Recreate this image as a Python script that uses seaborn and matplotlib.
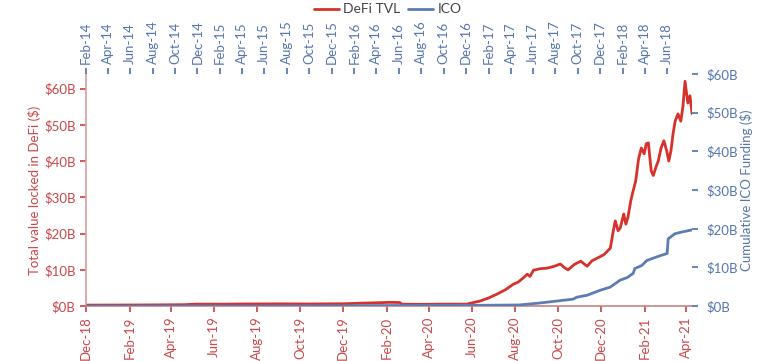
import matplotlib
matplotlib.use("Agg")
import matplotlib.pyplot as plt
import matplotlib.dates as mdates
from matplotlib.ticker import FuncFormatter
from matplotlib.lines import Line2D
import pandas as pd
import seaborn as sns

# DeFi total value locked, $B (bottom / left axes)
defi_dates = ["2018-12-01", "2019-01-15", "2019-03-01", "2019-04-20", "2019-05-05", "2019-06-15",
              "2019-07-15", "2019-09-01", "2019-10-15", "2019-12-01", "2019-12-24", "2020-01-21",
              "2020-02-05", "2020-02-19", "2020-02-22", "2020-03-20", "2020-04-20", "2020-05-24",
              "2020-06-12", "2020-06-25", "2020-07-06", "2020-07-18", "2020-07-29", "2020-08-05",
              "2020-08-12", "2020-08-18", "2020-08-22", "2020-08-27", "2020-09-05", "2020-09-16",
              "2020-09-24", "2020-10-04", "2020-10-10", "2020-10-15", "2020-10-24", "2020-11-02",
              "2020-11-11", "2020-11-18", "2020-11-26", "2020-12-05", "2020-12-14", "2020-12-18",
              "2020-12-21", "2020-12-25", "2020-12-28", "2021-01-02", "2021-01-05", "2021-01-08",
              "2021-01-12", "2021-01-15", "2021-01-19", "2021-01-23", "2021-01-27", "2021-01-31",
              "2021-02-03", "2021-02-06", "2021-02-10", "2021-02-13", "2021-02-17", "2021-02-20",
              "2021-02-24", "2021-02-28", "2021-03-04", "2021-03-07", "2021-03-10", "2021-03-13",
              "2021-03-16", "2021-03-20", "2021-03-24", "2021-03-27", "2021-03-30", "2021-04-03",
              "2021-04-06", "2021-04-09"]
defi_tvl = [0.28, 0.30, 0.33, 0.40, 0.55, 0.55,
            0.60, 0.62, 0.60, 0.65, 0.80, 0.95,
            1.05, 1.00, 0.55, 0.50, 0.55, 0.55,
            1.4, 2.3, 3.3, 4.5, 6.0, 6.6,
            7.7, 8.8, 8.2, 9.9, 10.3, 10.5,
            10.9, 11.6, 10.6, 10.0, 11.5, 12.4,
            11.0, 12.5, 13.3, 14.2, 16.0, 20.5,
            23.5, 20.8, 21.5, 25.4, 22.6, 24.5,
            29.0, 31.5, 34.5, 40.5, 43.6, 42.0,
            44.8, 45.0, 37.3, 36.0, 38.5, 40.0,
            43.6, 45.6, 42.8, 40.0, 42.8, 47.5,
            51.0, 53.0, 51.0, 55.0, 62.0, 56.0,
            58.0, 53.0]

# cumulative ICO funding, $B (top / right axes)
ico_dates = ["2014-02-01", "2014-07-20", "2015-06-01", "2016-05-01", "2016-12-01", "2017-03-01",
             "2017-04-25", "2017-06-19", "2017-08-04", "2017-09-18", "2017-09-28", "2017-10-26",
             "2017-12-01", "2017-12-28", "2018-01-24", "2018-02-13", "2018-03-01", "2018-03-05",
             "2018-03-24", "2018-04-07", "2018-05-12", "2018-06-01", "2018-06-04", "2018-06-22",
             "2018-07-13", "2018-08-08"]
ico_funding = [0.0, 0.02, 0.03, 0.15, 0.2, 0.25,
               0.3, 0.8, 1.3, 1.8, 2.3, 2.8,
               4.1, 4.9, 6.7, 7.4, 8.5, 9.7,
               10.5, 11.8, 13.0, 13.6, 17.4, 18.7,
               19.2, 19.7]

# tick months shown on each date axis
defi_ticks = pd.date_range("2018-12-01", "2021-04-01", freq="2MS")
ico_ticks = pd.date_range("2014-02-01", "2018-06-01", freq="2MS")

red = "#d6312b"
blue = "#5b7db4"
red_txt = "#c9474a"
blue_txt = "#5575ad"

sns.set_theme(style="white")
plt.rcParams["font.family"] = ["Lato", "DejaVu Sans"]

defi = pd.DataFrame({"date": pd.to_datetime(defi_dates), "tvl": defi_tvl})
ico = pd.DataFrame({"date": pd.to_datetime(ico_dates), "ico": ico_funding})

fig = plt.figure(figsize=(7.75, 3.61), dpi=100)
ax = fig.add_axes([0.111, 0.152, 0.782, 0.643])
ax2 = fig.add_axes(ax.get_position(), frameon=False)

sns.lineplot(data=ico, x="date", y="ico", ax=ax2, color=blue, linewidth=2.0)
sns.lineplot(data=defi, x="date", y="tvl", ax=ax, color=red, linewidth=2.0)

fmt_b = FuncFormatter(lambda v, p: "$%dB" % v)

# bottom / left
ax.set_xlim(pd.Timestamp("2018-12-01"), pd.Timestamp("2021-04-09"))
ax.set_ylim(0, 64)
ax.set_yticks(range(0, 61, 10))
ax.yaxis.set_major_formatter(fmt_b)
ax.set_xticks(defi_ticks)
ax.xaxis.set_major_formatter(mdates.DateFormatter("%b-%y"))
ax.tick_params(axis="x", rotation=90, colors=red_txt, labelsize=9.5, length=4, direction="out", bottom=True)
ax.tick_params(axis="y", colors=red_txt, labelsize=9.5, length=4, direction="out", left=True)
ax.set_xlabel("")
ax.set_ylabel("Total value locked in DeFi ($)", color=red_txt, fontsize=9.5, labelpad=2)
for s in ["top", "right"]:
    ax.spines[s].set_visible(False)
ax.spines["left"].set_color("#d9a0a0")
ax.spines["bottom"].set_color("#c98888")

# top / right
ax2.patch.set_visible(False)
ax2.set_xlim(pd.Timestamp("2014-02-01"), pd.Timestamp("2018-08-08"))
ax2.set_ylim(0, 60)
ax2.set_yticks(range(0, 61, 10))
ax2.yaxis.set_major_formatter(fmt_b)
ax2.set_xticks(ico_ticks)
ax2.xaxis.set_major_formatter(mdates.DateFormatter("%b-%y"))
ax2.xaxis.tick_top()
ax2.yaxis.tick_right()
ax2.yaxis.set_label_position("right")
ax2.tick_params(axis="x", rotation=90, colors=blue_txt, labelsize=9.5, length=4, direction="out", top=True, bottom=False)
ax2.tick_params(axis="y", colors=blue_txt, labelsize=9.5, length=4, direction="out", right=True, left=False, pad=6)
ax2.set_xlabel("")
ax2.set_ylabel("Cumulative ICO Funding ($)", color=blue_txt, fontsize=9.5, labelpad=2)
for s in ["top", "right"]:
    ax2.spines[s].set_visible(True)
    ax2.spines[s].set_color("#9aabc8")
for s in ["bottom", "left"]:
    ax2.spines[s].set_visible(False)

handles = [Line2D([], [], color=red, lw=2), Line2D([], [], color=blue, lw=2)]
fig.legend(handles, ["DeFi TVL", "ICO"], loc="upper center", bbox_to_anchor=(0.5, 1.025), ncol=2,
           frameon=False, fontsize=10, handlelength=1.8, handletextpad=0.3, columnspacing=0.6,
           labelcolor="#444444")

fig.savefig("out.png", dpi=100)
